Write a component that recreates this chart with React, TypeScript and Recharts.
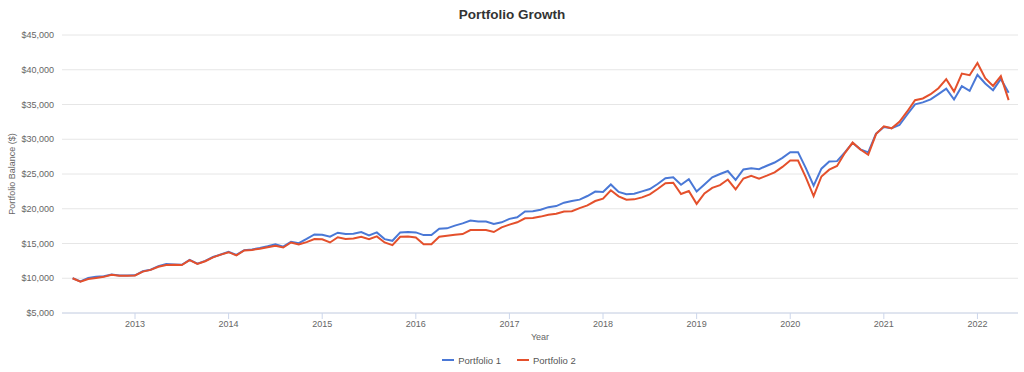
import React from 'react';
import { LineChart, Line, XAxis, YAxis, CartesianGrid, Legend } from 'recharts';

const months: string[] = [
  '2012-05', '2012-06', '2012-07', '2012-08', '2012-09', '2012-10', '2012-11', '2012-12',
  '2013-01', '2013-02', '2013-03', '2013-04', '2013-05', '2013-06', '2013-07', '2013-08', '2013-09', '2013-10', '2013-11', '2013-12',
  '2014-01', '2014-02', '2014-03', '2014-04', '2014-05', '2014-06', '2014-07', '2014-08', '2014-09', '2014-10', '2014-11', '2014-12',
  '2015-01', '2015-02', '2015-03', '2015-04', '2015-05', '2015-06', '2015-07', '2015-08', '2015-09', '2015-10', '2015-11', '2015-12',
  '2016-01', '2016-02', '2016-03', '2016-04', '2016-05', '2016-06', '2016-07', '2016-08', '2016-09', '2016-10', '2016-11', '2016-12',
  '2017-01', '2017-02', '2017-03', '2017-04', '2017-05', '2017-06', '2017-07', '2017-08', '2017-09', '2017-10', '2017-11', '2017-12',
  '2018-01', '2018-02', '2018-03', '2018-04', '2018-05', '2018-06', '2018-07', '2018-08', '2018-09', '2018-10', '2018-11', '2018-12',
  '2019-01', '2019-02', '2019-03', '2019-04', '2019-05', '2019-06', '2019-07', '2019-08', '2019-09', '2019-10', '2019-11', '2019-12',
  '2020-01', '2020-02', '2020-03', '2020-04', '2020-05', '2020-06', '2020-07', '2020-08', '2020-09', '2020-10', '2020-11', '2020-12',
  '2021-01', '2021-02', '2021-03', '2021-04', '2021-05', '2021-06', '2021-07', '2021-08', '2021-09', '2021-10', '2021-11', '2021-12',
  '2022-01', '2022-02', '2022-03', '2022-04', '2022-05',
];

const portfolio1: number[] = [
  10000, 9550, 10050, 10200, 10300, 10550, 10400, 10400,
  10420, 11000, 11220, 11750, 12040, 11980, 11940, 12650, 12100, 12500, 13050, 13420,
  13800, 13350, 14050, 14150, 14350, 14600, 14900, 14550, 15250, 15050, 15650, 16300,
  16250, 15970, 16550, 16360, 16410, 16650, 16160, 16600, 15630, 15390, 16600, 16650,
  16600, 16210, 16210, 17130, 17180, 17570, 17900, 18300, 18150, 18150, 17820, 18050,
  18540, 18780, 19600, 19650, 19850, 20230, 20380, 20870, 21110, 21310, 21830, 22470,
  22420, 23490, 22420, 22080, 22150, 22500, 22840, 23560, 24380, 24520, 23460, 24240,
  22480, 23500, 24520, 25000, 25430, 24160, 25650, 25840, 25700, 26190, 26650, 27320,
  28140, 28140, 25840, 23320, 25770, 26800, 26850, 28100, 29480, 28550, 28120, 30800,
  31760, 31580, 32050, 33560, 35020, 35300, 35730, 36500, 37280, 35720, 37630, 36960,
  39280, 38020, 37060, 38680, 36680,
];

const portfolio2: number[] = [
  10000, 9500, 9900, 10050, 10200, 10500, 10350, 10350,
  10400, 10950, 11200, 11650, 11900, 11940, 11900, 12600, 12050, 12450, 13000, 13400,
  13750, 13300, 14000, 14080, 14250, 14450, 14660, 14420, 15150, 14850, 15200, 15650,
  15600, 15150, 15900, 15650, 15730, 15970, 15630, 16020, 15150, 14760, 15970, 16020,
  15870, 14900, 14900, 15970, 16110, 16260, 16360, 16940, 16940, 16940, 16650, 17320,
  17710, 18050, 18630, 18680, 18870, 19130, 19270, 19610, 19650, 20090, 20480, 21110,
  21460, 22660, 21790, 21310, 21350, 21640, 22070, 22840, 23660, 23750, 22120, 22550,
  20700, 22200, 23000, 23400, 24200, 22780, 24350, 24730, 24330, 24760, 25240, 26020,
  26940, 26940, 24520, 21810, 24640, 25620, 26150, 28010, 29520, 28520, 27770, 30750,
  31860, 31570, 32520, 34000, 35620, 35870, 36480, 37350, 38650, 36860, 39450, 39210,
  40970, 38780, 37670, 39080, 35630,
];

const seriesNames = ['Portfolio 1', 'Portfolio 2'];
const yearTicks: number[] = [2013, 2014, 2015, 2016, 2017, 2018, 2019, 2020, 2021, 2022];
const balanceTicks: number[] = [5000, 10000, 15000, 20000, 25000, 30000, 35000, 40000, 45000];

const BASE_YEAR = 2012;
const monthIndex = (s: string) => {
  const [y, m] = s.split('-').map(Number);
  return (y - BASE_YEAR) * 12 + (m - 1);
};

const data = months.map((mo, i) => ({
  t: monthIndex(mo),
  p1: portfolio1[i],
  p2: portfolio2[i],
}));

const FONT = '"Liberation Sans", Arial, sans-serif';

const YLabel = (props: any) => {
  const vb = props.viewBox || {};
  const cx = 12;
  const cy = vb.y + vb.height / 2;
  return (
    <text
      x={cx}
      y={cy}
      transform={`rotate(-90, ${cx}, ${cy})`}
      textAnchor="middle"
      dominantBaseline="central"
      fill="#666"
      fontSize={9}
      fontFamily={FONT}
    >
      Portfolio Balance ($)
    </text>
  );
};

const XLabel = (props: any) => {
  const vb = props.viewBox || {};
  return (
    <text
      x={vb.x + vb.width / 2}
      y={vb.y + 27}
      textAnchor="middle"
      fill="#666"
      fontSize={9}
      fontFamily={FONT}
    >
      Year
    </text>
  );
};

const renderLegend = (props: any) => {
  const payload = props.payload || [];
  return (
    <div
      style={{
        display: 'flex',
        justifyContent: 'center',
        alignItems: 'center',
        height: 24,
        fontFamily: FONT,
        fontSize: 9.5,
        color: '#555',
      }}
    >
      {payload.map((e: any, i: number) => (
        <div key={i} style={{ display: 'flex', alignItems: 'center', marginLeft: i ? 16 : 0 }}>
          <span style={{ display: 'inline-block', width: 12, height: 2, background: e.color, marginRight: 4 }} />
          <span>{e.value}</span>
        </div>
      ))}
    </div>
  );
};

export default function App() {
  return (
    <div style={{ position: 'absolute', left: 0, top: 0, width: 1024, height: 372, background: '#fff' }}>
      <div
        style={{
          position: 'absolute',
          left: 0,
          top: 6,
          width: 1024,
          textAlign: 'center',
          fontFamily: FONT,
          fontWeight: 'bold',
          fontSize: 13.5,
          color: '#333',
          lineHeight: '18px',
          zIndex: 1,
        }}
      >
        Portfolio Growth
      </div>
      <LineChart width={1024} height={372} data={data} margin={{ top: 35, right: 6, bottom: 0, left: 0 }}>
        <CartesianGrid vertical={false} stroke="#e6e6e6" />
        <XAxis
          dataKey="t"
          type="number"
          domain={[2.64, 125.2]}
          ticks={yearTicks.map((y) => (y - BASE_YEAR) * 12)}
          tickFormatter={(v: number) => String(BASE_YEAR + Math.round(v / 12))}
          height={35}
          axisLine={{ stroke: '#ccd6eb' }}
          tickLine={{ stroke: '#ccd6eb' }}
          tickSize={6}
          tick={{ fill: '#666', fontSize: 9, fontFamily: FONT }}
          label={<XLabel />}
        />
        <YAxis
          width={62}
          domain={[5000, 45000]}
          ticks={balanceTicks}
          axisLine={false}
          tickLine={false}
          tick={{ fill: '#666', fontSize: 9, fontFamily: FONT }}
          tickFormatter={(v: number) => '$' + v.toLocaleString('en-US')}
          label={<YLabel />}
        />
        <Legend verticalAlign="bottom" content={renderLegend} />
        <Line
          type="linear"
          dataKey="p1"
          name={seriesNames[0]}
          stroke="#4a78d6"
          strokeWidth={2}
          dot={false}
          isAnimationActive={false}
        />
        <Line
          type="linear"
          dataKey="p2"
          name={seriesNames[1]}
          stroke="#e4502c"
          strokeWidth={2}
          dot={false}
          isAnimationActive={false}
        />
      </LineChart>
    </div>
  );
}
